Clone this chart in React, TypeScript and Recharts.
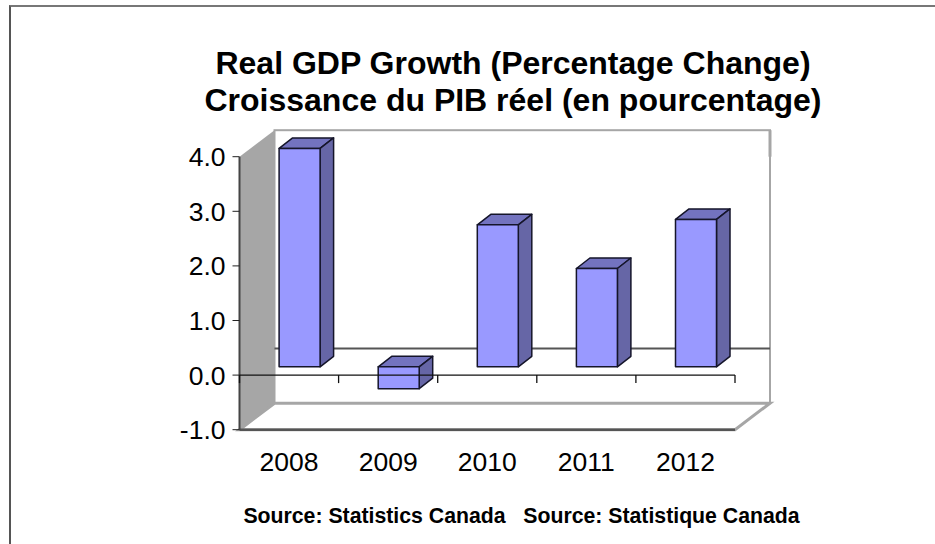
import { BarChart, Bar, XAxis, YAxis, ReferenceArea, ReferenceLine } from "recharts";

const years = ["2008", "2009", "2010", "2011", "2012"];
const growth = [4.0, -0.4, 2.6, 1.8, 2.7];
const yTicks = [-1, 0, 1, 2, 3, 4];
const titleLines = [
  "Real GDP Growth (Percentage Change)",
  "Croissance du PIB réel (en pourcentage)",
];
const sourceText = "Source: Statistics Canada   Source: Statistique Canada";

const data = years.map((year, i) => ({ year, growth: growth[i] }));

const FONT = '"Liberation Sans", Arial, sans-serif';
const WALL_DX = 35;
const WALL_DY = 26.5;
const BAR_DX = 10.6;
const BAR_DY = 8.3;
const BOX_DX = 13.5;
const BOX_DY = 10.5;

// back wall, side wall and floor of the 3d box
function Walls({ x, y, width, height }: any) {
  const bottom = y + height;
  const right = x + width;
  const zeroY = y + (height * 4) / 5 - WALL_DY;
  return (
    <g>
      <rect x={x + WALL_DX} y={y - WALL_DY} width={width} height={height} fill="#fff" stroke="#a6a6a6" strokeWidth={2} />
      <polygon
        points={`${x},${y} ${x + WALL_DX},${y - WALL_DY} ${x + WALL_DX},${bottom - WALL_DY} ${x},${bottom}`}
        fill="#a6a6a6"
      />
      <polygon
        points={`${x},${bottom} ${x + WALL_DX},${bottom - WALL_DY} ${right + WALL_DX},${bottom - WALL_DY} ${right},${bottom}`}
        fill="#fff"
        stroke="#a6a6a6"
        strokeWidth={3}
      />
      <line x1={right + WALL_DX} y1={y - WALL_DY} x2={right + WALL_DX} y2={y} stroke="#a6a6a6" strokeWidth={3} />
      <line x1={x} y1={bottom} x2={right} y2={bottom} stroke="#555" strokeWidth={2.5} />
      <line x1={x + WALL_DX} y1={zeroY} x2={right + WALL_DX} y2={zeroY} stroke="#555" strokeWidth={2} />
    </g>
  );
}

function Box3D({ x, y, width, height }: any) {
  const top = Math.min(y, y + height) - BAR_DY;
  const h = Math.abs(height);
  const left = x + BAR_DX;
  const right = left + width;
  const bottom = top + h;
  return (
    <g stroke="#15152a" strokeWidth={1.5} strokeLinejoin="round">
      <polygon
        points={`${left},${top} ${left + BOX_DX},${top - BOX_DY} ${right + BOX_DX},${top - BOX_DY} ${right},${top}`}
        fill="#7373bf"
      />
      <polygon
        points={`${right},${top} ${right + BOX_DX},${top - BOX_DY} ${right + BOX_DX},${bottom - BOX_DY} ${right},${bottom}`}
        fill="#6666a6"
      />
      <rect x={left} y={top} width={width} height={h} fill="#9999ff" />
    </g>
  );
}

// category axis sits at zero, with its ticks between the bands
function ZeroAxis({ x1, x2, y1 }: any) {
  const band = (x2 - x1) / years.length;
  const ticks = [...years.keys(), years.length];
  return (
    <g stroke="#111" strokeWidth={1.3}>
      <line x1={x1} y1={y1} x2={x2} y2={y1} />
      {ticks.map((i) => (
        <line key={i} x1={x1 + band * i} y1={y1} x2={x1 + band * i} y2={y1 + 8} />
      ))}
    </g>
  );
}

export default function App() {
  return (
    <div style={{ position: "absolute", left: 0, top: 0, width: 935, height: 544, background: "#fff", overflow: "hidden", fontFamily: FONT }}>
      <div style={{ position: "absolute", left: 9, top: 5, right: -5, bottom: -5, borderLeft: "2px solid #555", borderTop: "2px solid #777" }} />
      <BarChart
        width={935}
        height={544}
        data={data}
        margin={{ top: 156.7, right: 200, bottom: 74.3, left: 179.5 }}
        barSize={41}
        style={{ position: "absolute", left: 0, top: 0 }}
      >
        <ReferenceArea y1={-1} y2={4} shape={<Walls />} ifOverflow="visible" />
        <XAxis
          dataKey="year"
          height={40}
          axisLine={false}
          tickLine={false}
          tickMargin={16}
          tick={{ fontSize: 26.5, fill: "#000", fontFamily: FONT }}
        />
        <YAxis
          width={60}
          domain={[-1, 4]}
          ticks={yTicks}
          tickFormatter={(v: number) => v.toFixed(1)}
          axisLine={{ stroke: "#444", strokeWidth: 2 }}
          tickLine={{ stroke: "#222" }}
          tickSize={7}
          tickMargin={7}
          tick={{ fontSize: 26.5, fill: "#000", fontFamily: FONT }}
        />
        <Bar dataKey="growth" isAnimationActive={false} shape={<Box3D />} />
        <ReferenceLine y={0} shape={<ZeroAxis />} zIndex={1000} />
      </BarChart>
      <div style={{ position: "absolute", left: 0, width: 1026, top: 45, textAlign: "center", fontSize: 32, lineHeight: "37px", fontWeight: 700, color: "#000" }}>
        {titleLines.map((line) => (
          <div key={line} style={{ whiteSpace: "nowrap" }}>{line}</div>
        ))}
      </div>
      <div style={{ position: "absolute", left: 0, width: 1043, top: 504, textAlign: "center", fontSize: 21.25, fontWeight: 700, color: "#000", whiteSpace: "pre" }}>
        {sourceText}
      </div>
    </div>
  );
}
